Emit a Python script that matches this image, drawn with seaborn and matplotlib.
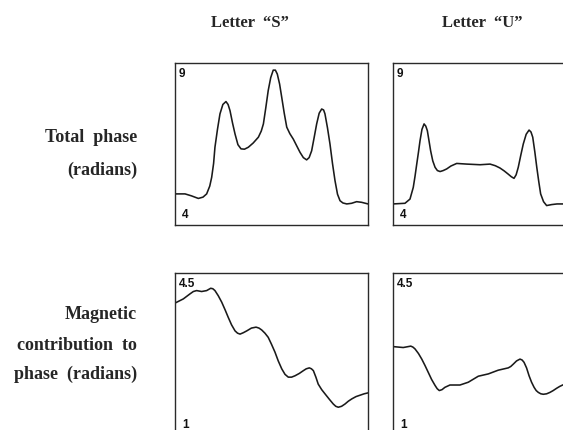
import matplotlib
matplotlib.use("Agg")
import matplotlib.pyplot as plt
import seaborn as sns
import pandas as pd

# Sample position along the stroke (0-100) and phase readings for each letter
s_total_x = [0, 5.2, 8.5, 12.1, 14.5, 16.4, 18.0, 19.0, 20.0, 20.7, 22.0, 23.3, 24.8, 26.4, 27.5,
             28.5, 29.8, 31.1, 32.6, 34.2, 36.0, 38.0, 40.5, 43.2, 44.7, 45.8, 47.0, 48.3, 49.6,
             50.9, 52.0, 53.0, 54.2, 55.3, 56.6, 57.9, 59.5, 61.3, 63.0, 64.8, 66.5, 68.2, 69.5,
             70.8, 72.1, 73.4, 74.7, 76.0, 77.0, 77.7, 79.0, 80.3, 81.6, 82.9, 84.2, 85.5, 87.0,
             89.0, 91.5, 94.1, 96.7, 100]
s_total_y = [4.96, 4.96, 4.90, 4.82, 4.86, 4.96, 5.20, 5.47, 5.90, 6.40, 6.95, 7.43, 7.72, 7.81,
             7.72, 7.53, 7.15, 6.81, 6.48, 6.35, 6.34, 6.40, 6.53, 6.71, 6.90, 7.12, 7.60, 8.15,
             8.55, 8.78, 8.78, 8.66, 8.35, 7.94, 7.45, 7.02, 6.82, 6.65, 6.45, 6.24, 6.08, 6.01,
             6.08, 6.29, 6.70, 7.12, 7.45, 7.58, 7.55, 7.43, 7.00, 6.50, 5.90, 5.37, 4.95, 4.75,
             4.68, 4.65, 4.67, 4.72, 4.70, 4.65]

u_total_x = [0, 6.2, 8.8, 10.5, 11.4, 12.3, 13.2, 14.0, 15.0, 16.1, 17.0, 17.8, 18.6, 19.5, 20.6,
             21.8, 23.0, 24.4, 26.0, 27.8, 30.0, 33.0, 38.2, 45.1, 50.3, 53.0, 55.4, 57.6, 59.7,
             61.3, 62.7, 63.8, 64.9, 66.2, 67.5, 69.0, 70.5, 71.5, 72.4, 73.5, 74.5, 75.5, 76.5,
             78.0, 79.6, 82.2, 85.0, 87.9, 92.0]
u_total_y = [4.65, 4.67, 4.80, 5.16, 5.50, 5.88, 6.25, 6.60, 6.95, 7.12, 7.05, 6.91, 6.62, 6.29,
             5.98, 5.78, 5.68, 5.65, 5.68, 5.73, 5.82, 5.90, 5.88, 5.86, 5.88, 5.83, 5.76, 5.67,
             5.57, 5.49, 5.44, 5.55, 5.78, 6.15, 6.50, 6.80, 6.93, 6.87, 6.71, 6.25, 5.78, 5.35,
             4.96, 4.72, 4.60, 4.63, 4.65, 4.65, 4.65]

s_mag_x = [0, 4.3, 7.8, 9.5, 11.2, 13.8, 16.4, 18.5, 19.6, 20.7, 22.4, 24.2, 26.0, 27.6, 29.3,
           31.1, 32.4, 33.7, 35.4, 37.2, 39.6, 42.0, 43.5, 44.9, 46.6, 48.3, 50.0, 51.8, 53.5,
           55.3, 57.0, 58.7, 60.4, 62.2, 64.4, 66.5, 68.0, 69.6, 70.7, 71.7, 73.0, 74.2, 76.0,
           77.7, 80.0, 82.0, 83.3, 84.6, 86.3, 88.1, 89.8, 91.6, 93.8, 95.9, 98.0, 100]
s_mag_y = [3.85, 3.94, 4.05, 4.10, 4.12, 4.10, 4.12, 4.17, 4.16, 4.12, 4.01, 3.87, 3.70, 3.54,
           3.38, 3.25, 3.20, 3.18, 3.21, 3.25, 3.31, 3.33, 3.31, 3.27, 3.20, 3.11, 2.96, 2.79,
           2.60, 2.43, 2.31, 2.25, 2.25, 2.28, 2.33, 2.39, 2.43, 2.45, 2.43, 2.39, 2.25, 2.10,
           1.98, 1.89, 1.77, 1.67, 1.62, 1.60, 1.62, 1.67, 1.73, 1.78, 1.83, 1.86, 1.89, 1.91]

u_mag_x = [0, 5.3, 9.2, 10.3, 11.4, 13.2, 14.9, 16.6, 18.3, 20.0, 21.8, 22.9, 24.0, 25.4, 26.9,
           29.5, 34.7, 39.0, 44.2, 49.4, 54.5, 59.7, 61.0, 62.3, 64.0, 65.8, 66.9, 67.9, 69.2,
           70.5, 71.8, 73.1, 74.2, 75.3, 76.6, 77.9, 79.6, 81.3, 83.0, 84.8, 86.4, 87.9, 92.0]
u_mag_y = [2.91, 2.89, 2.92, 2.90, 2.86, 2.76, 2.64, 2.50, 2.35, 2.20, 2.07, 2.00, 1.96, 1.98,
           2.03, 2.08, 2.08, 2.14, 2.27, 2.32, 2.40, 2.45, 2.48, 2.53, 2.60, 2.64, 2.62, 2.57,
           2.45, 2.28, 2.14, 2.03, 1.96, 1.92, 1.89, 1.88, 1.89, 1.92, 1.96, 2.01, 2.05, 2.08,
           2.14]

column_titles = ["Letter  \u201cS\u201d", "Letter  \u201cU\u201d"]
row_titles = [["Total  phase", "(radians)"],
              ["Magnetic", "contribution  to", "phase  (radians)"]]
row_limits = [(4, 9), (1, 4.5)]
row_tick_text = [("9", "4"), ("4.5", "1")]

sns.set_style("white")

W, H = 563, 431
fig = plt.figure(figsize=(W / 100, H / 100), dpi=100)
fig.patch.set_facecolor("white")


def px_axes(x0, y0, w, h):
    """Axes placed by pixel box (top-left origin)."""
    return fig.add_axes([x0 / W, (H - y0 - h) / H, w / W, h / H])


panels = [
    (175, 64, s_total_x, s_total_y, 0),
    (393, 64, u_total_x, u_total_y, 0),
    (175, 274, s_mag_x, s_mag_y, 1),
    (393, 274, u_mag_x, u_mag_y, 1),
]

for x0, y0, xs, ys, row in panels:
    ax = px_axes(x0, y0, 193, 162)
    df = pd.DataFrame({"pos": xs, "phase": ys})
    sns.lineplot(data=df, x="pos", y="phase", ax=ax, color="#1a1a1a", linewidth=1.15,
                 solid_joinstyle="round", solid_capstyle="round")
    ax.set_xlim(0, 100)
    ax.set_ylim(*row_limits[row])
    ax.set_xticks([])
    ax.set_yticks([])
    ax.set_xlabel("")
    ax.set_ylabel("")
    for sp in ax.spines.values():
        sp.set_visible(True)
        sp.set_color("#2a2a2a")
        sp.set_linewidth(1.0)
    top_txt, bot_txt = row_tick_text[row]
    ax.text(0.02, 0.975, top_txt, transform=ax.transAxes, ha="left", va="top",
            fontsize=8.5, fontweight="bold", family="Liberation Sans", color="#111111")
    ax.text(0.035, 0.03, bot_txt, transform=ax.transAxes, ha="left", va="bottom",
            fontsize=8.5, fontweight="bold", family="Liberation Sans", color="#111111")

serif = "Liberation Serif"
fig.text(250 / W, 1 - 23 / H, column_titles[0], ha="center", va="center",
         fontsize=12, fontweight="bold", family=serif)
fig.text(482 / W, 1 - 23 / H, column_titles[1], ha="center", va="center",
         fontsize=12, fontweight="bold", family=serif)

for line, yp in zip(row_titles[0], [138, 170]):
    fig.text(137 / W, 1 - yp / H, line, ha="right", va="center",
             fontsize=13, fontweight="bold", family=serif)
for line, yp in zip(row_titles[1], [315, 345, 374]):
    fig.text(137 / W, 1 - yp / H, line, ha="right", va="center",
             fontsize=13, fontweight="bold", family=serif)

fig.savefig("out.png", dpi=100, facecolor="white")
